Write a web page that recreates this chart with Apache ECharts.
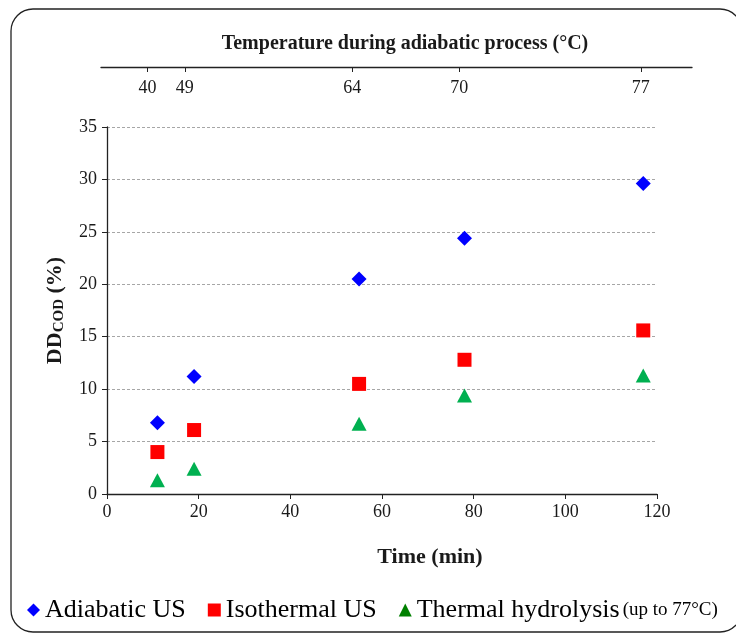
<!DOCTYPE html>
<html>
<head>
<meta charset="utf-8">
<script src="https://cdn.jsdelivr.net/npm/echarts@6/dist/echarts.min.js"></script>
<style>
  html, body { margin: 0; padding: 0; background: #fff; }
  #main { width: 736px; height: 635px; }
</style>
</head>
<body>
<div id="main"></div>
<script>
// sampling times (min) and matching adiabatic temperature
var times = [11, 19, 55, 78, 117];
var temps = [40, 49, 64, 70, 77];

// DD_COD (%)
var adiabatic = [6.8, 11.2, 20.5, 24.4, 29.6];
var isothermal = [4.0, 6.1, 10.5, 12.8, 15.6];
var thermal = [1.3, 2.4, 6.7, 9.4, 11.3];

var serif = '"Liberation Serif", "Times New Roman", serif';
var textColor = '#1a1a1a';

function pairs(ys) {
    return times.map(function (t, i) { return [t, ys[i]]; });
}

var chart = echarts.init(document.getElementById('main'));

var option = {
    animation: false,
    textStyle: { fontFamily: serif },
    graphic: [
        {
            type: 'rect',
            shape: { x: 11, y: 9, width: 731, height: 623, r: 22 },
            style: { fill: 'none', stroke: '#222', lineWidth: 1.3 },
            silent: true
        }
    ],
    title: {
        text: 'Temperature during adiabatic process (°C)',
        left: 400,
        top: 29,
        textAlign: 'center',
        textStyle: { fontFamily: serif, fontSize: 20, fontWeight: 'bold', color: textColor }
    },
    legend: {
        left: 22,
        top: 592,
        itemWidth: 13,
        itemHeight: 13,
        itemGap: 22,
        textStyle: {
            fontFamily: serif,
            fontSize: 26,
            color: '#000',
            rich: {
                small: { fontFamily: serif, fontSize: 19, color: '#000', padding: [0, 0, 0, 3] }
            }
        },
        formatter: function (name) {
            if (name === 'Thermal hydrolysis') {
                return name + '{small|(up to 77°C)}';
            }
            return name;
        },
        data: [
            { name: 'Adiabatic US', icon: 'diamond' },
            { name: 'Isothermal US', icon: 'rect' },
            { name: 'Thermal hydrolysis', icon: 'triangle', itemStyle: { color: '#008000' } }
        ]
    },
    grid: [
        { left: 107, right: 79, top: 127, bottom: 141 },
        { left: 101, right: 44, top: 67, height: 0 }
    ],
    xAxis: [
        {
            type: 'value',
            gridIndex: 0,
            min: 0,
            max: 120,
            interval: 20,
            name: 'Time (min)',
            nameLocation: 'middle',
            nameGap: 52,
            nameTextStyle: {
                fontFamily: serif, fontSize: 22, fontWeight: 'bold', color: textColor,
                padding: [0, 0, 0, 96]
            },
            axisLine: { show: true, onZero: false, lineStyle: { color: '#222', width: 1.3 } },
            axisTick: { show: true, length: 5, lineStyle: { color: '#222' } },
            axisLabel: { fontFamily: serif, fontSize: 18, color: textColor, margin: 9 },
            splitLine: { show: false }
        },
        {
            type: 'value',
            gridIndex: 1,
            position: 'bottom',
            min: 1,
            max: 128,
            axisLine: { show: true, onZero: false, lineStyle: { color: '#222', width: 1.3 } },
            axisTick: { show: true, length: 5, customValues: times, lineStyle: { color: '#222' } },
            axisLabel: {
                fontFamily: serif, fontSize: 18, color: textColor, margin: 12,
                customValues: times,
                formatter: function (v) {
                    var i = times.indexOf(v);
                    return i >= 0 ? String(temps[i]) : '';
                }
            },
            splitLine: { show: false }
        }
    ],
    yAxis: [
        {
            type: 'value',
            gridIndex: 0,
            min: 0,
            max: 35,
            interval: 5,
            name: '{b|DD}{s|COD}{b| (%)}',
            nameLocation: 'middle',
            nameGap: 40,
            nameRotate: 90,
            nameTextStyle: {
                rich: {
                    b: { fontFamily: serif, fontSize: 22, fontWeight: 'bold', color: textColor },
                    s: { fontFamily: serif, fontSize: 15, fontWeight: 'bold', color: textColor, padding: [9, 0, 0, 0] }
                }
            },
            axisLine: { show: true, lineStyle: { color: '#222', width: 1.3 } },
            axisTick: { show: true, length: 5, lineStyle: { color: '#222' } },
            axisLabel: { fontFamily: serif, fontSize: 18, color: textColor, margin: 10 },
            splitLine: { show: true, lineStyle: { color: '#a6a6a6', type: [3, 2], width: 1 } }
        },
        {
            type: 'value',
            gridIndex: 1,
            show: false
        }
    ],
    series: [
        {
            name: 'Adiabatic US',
            type: 'scatter',
            symbol: 'diamond',
            symbolSize: [15, 15],
            itemStyle: { color: '#0000ff', opacity: 1 },
            data: pairs(adiabatic)
        },
        {
            name: 'Isothermal US',
            type: 'scatter',
            symbol: 'rect',
            symbolSize: [14, 14],
            itemStyle: { color: '#ff0000', opacity: 1 },
            data: pairs(isothermal)
        },
        {
            name: 'Thermal hydrolysis',
            type: 'scatter',
            symbol: 'triangle',
            symbolSize: [15, 14],
            itemStyle: { color: '#00b050', opacity: 1 },
            data: pairs(thermal)
        }
    ]
};

chart.setOption(option);
</script>
</body>
</html>
